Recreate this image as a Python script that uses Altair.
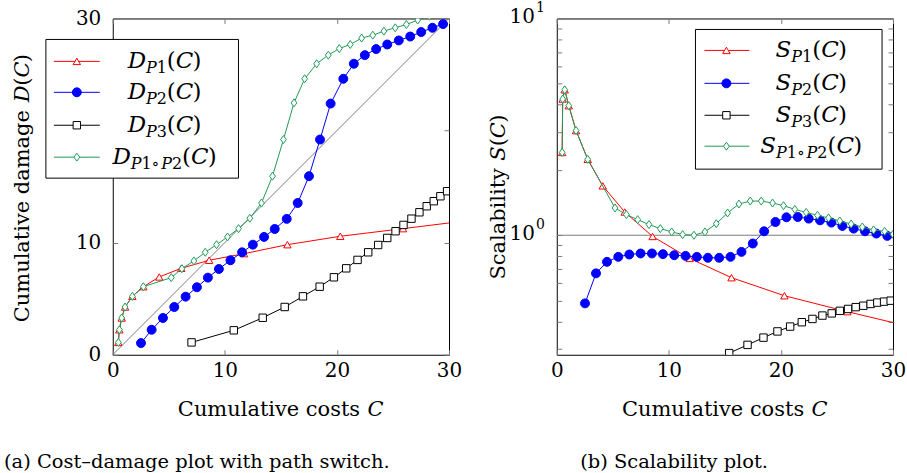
import altair as alt
import pandas as pd

# ---------------- data: cost-damage curves D(C) ----------------
DP1_C = [0.5, 0.59, 0.8, 1.1, 1.75, 2.73, 4.15, 6.11, 8.6, 11.72, 15.58, 20.3, 25.9, 31.4]
DP1_D = [1.1, 2.23, 3.28, 4.26, 5.21, 6.07, 6.94, 7.71, 8.43, 9.02, 9.82, 10.57, 11.25, 11.93]

DP2_C = [2.52, 3.47, 4.48, 5.49, 6.5, 7.51, 8.49, 9.47, 10.5, 11.54, 12.5, 13.5, 14.45, 15.52,
         16.5, 17.51, 18.49, 19.44, 20.57, 21.51, 22.49, 23.5, 24.49, 25.52, 26.54, 27.52, 28.52, 29.47]
DP2_D = [1.04, 2.23, 3.28, 4.26, 5.18, 6.02, 6.88, 7.65, 8.43, 9.14, 9.82, 10.51, 11.22, 12.12,
         13.54, 15.93, 19.2, 22.41, 24.62, 25.96, 26.73, 27.27, 27.68, 28.04, 28.39, 28.79, 29.17, 29.5]

DP3_C = [7.03, 10.8, 13.38, 15.34, 16.97, 18.46, 19.73, 20.83, 21.84, 22.79, 23.68, 24.49, 25.23,
         25.94, 26.65, 27.36, 28.01, 28.64, 29.23, 29.83]
DP3_D = [1.1, 2.18, 3.3, 4.26, 5.21, 6.07, 6.91, 7.71, 8.46, 9.14, 9.79, 10.42, 11.02, 11.58,
         12.14, 12.71, 13.25, 13.7, 14.14, 14.59]

DSW_C = [0.5, 0.59, 0.8, 1.1, 1.75, 2.73, 5.22, 6.17, 7.24, 8.25, 9.26, 10.24, 11.22, 12.23, 13.27,
         14.25, 15.23, 16.17, 17.12, 18.19, 19.23, 20.21, 21.19, 22.2, 23.2, 24.19, 25.2, 26.2, 27.21,
         28.25, 29.25, 30.1]
DSW_D = [1.1, 2.23, 3.28, 4.26, 5.21, 6.07, 6.88, 7.68, 8.37, 9.14, 9.82, 10.51, 11.25, 12.18, 13.54,
         15.93, 19.2, 22.47, 24.62, 25.96, 26.73, 27.32, 27.68, 28.25, 28.51, 28.87, 29.17, 29.46, 29.86,
         30.2, 30.5, 30.6]

# ---------------- data: scalability S(C) ----------------
SP1_C = [0.48, 0.53, 0.71, 1.07, 1.72, 2.76, 4.1, 6.06, 8.55, 11.85, 15.59, 20.31, 25.93, 31.4]
SP1_S = [2.41, 4.25, 4.69, 3.96, 3.04, 2.24, 1.69, 1.28, 0.987, 0.782, 0.637, 0.526, 0.444, 0.38]

SP2_C = [2.52, 3.5, 4.48, 5.49, 6.47, 7.48, 8.49, 9.47, 10.48, 11.49, 12.5, 13.48, 14.49, 15.5,
         16.48, 17.49, 18.5, 19.51, 20.49, 21.5, 22.48, 23.49, 24.5, 25.48, 26.49, 27.5, 28.51, 29.49]
SP2_S = [0.485, 0.667, 0.754, 0.795, 0.815, 0.824, 0.824, 0.818, 0.809, 0.803, 0.795, 0.787, 0.787,
         0.795, 0.838, 0.916, 1.043, 1.151, 1.21, 1.214, 1.193, 1.172, 1.144, 1.104, 1.073, 1.043,
         1.018, 0.993]

SP3_C = [7.03, 10.8, 13.38, 15.38, 17.02, 18.44, 19.69, 20.82, 21.86, 22.81, 23.7, 24.53, 25.25,
         25.99, 26.67, 27.35, 28.0, 28.6, 29.2, 29.79]
SP3_S = [0.156, 0.202, 0.247, 0.286, 0.312, 0.337, 0.36, 0.379, 0.397, 0.411, 0.426, 0.436, 0.448,
         0.457, 0.466, 0.473, 0.482, 0.489, 0.494, 0.499]

SSW_C = [0.48, 0.53, 0.71, 1.07, 1.72, 2.76, 5.2, 6.21, 7.22, 8.23, 9.24, 10.25, 11.23, 12.24, 13.22,
         14.23, 15.24, 16.25, 17.26, 18.24, 19.25, 20.23, 21.24, 22.25, 23.26, 24.24, 25.25, 26.26,
         27.26, 28.27, 29.25, 30.0]
SSW_S = [2.41, 4.25, 4.69, 3.96, 3.04, 2.24, 1.336, 1.245, 1.18, 1.12, 1.073, 1.036, 1.007, 1.0,
         1.036, 1.131, 1.267, 1.393, 1.438, 1.438, 1.408, 1.369, 1.316, 1.275, 1.236, 1.202, 1.164,
         1.127, 1.092, 1.058, 1.043, 1.01]

X_TICKS = [0, 10, 20, 30]
D_TICKS = [0, 10, 20, 30]
S_TICKS = [0.3, 0.4, 0.5, 0.6, 0.7, 0.8, 0.9, 1, 2, 3, 4, 5, 6, 7, 8, 9, 10]
S_LABELS = [1, 10]
S_EXPONENTS = ["0", "1"]

# ---------------- styling ----------------
FONT = "DejaVu Serif"
RED, BLUE, BLACK, GREEN, GRAY = "#ff0000", "#0000ff", "#000000", "#1f9b55", "#7a7a7a"
TICK_GRAY = "#7a7a7a"
DIAMOND = "M0,-1L0.72,0L0,1L-0.72,0Z"
W, H = 337, 337
TITLE_SIZE, CAPTION_SIZE, TICK_SIZE = 21, 19.5, 20
LEG_SIZE, SUB_SIZE = 23, 16

# (colour, shape, size, open marker) per series
STYLES = {
    "P1": (RED, "triangle-up", 55, True),
    "P2": (BLUE, "circle", 80, False),
    "P3": (BLACK, "square", 55, True),
    "SW": (GREEN, DIAMOND, 64, True),
}

# advance widths (em) of DejaVu Serif glyphs used in the composed labels
ROMAN_W = {" ": .318, "(": .391, ")": .391, "C": .732, "S": .686, "D": .792, "P": .674,
           "a": .596, "b": .641, "c": .576, "d": .641, "e": .593, "g": .641, "h": .652, "i": .32,
           "l": .32, "m": .971, "o": .602, "p": .641, "s": .511, "t": .401, "u": .652, "v": .579,
           "w": .868, "y": .579, ".": .318, "–": .5, "∘": .6}
ITALIC_W = {"C": .732, "D": .792, "S": .686, "P": .674}


def text_width(s, style, size):
    table = ITALIC_W if style == "italic" else ROMAN_W
    return sum(table.get(ch, 0.636) for ch in s) * size


def rich(pieces, cx, cy, rotate=False):
    """Lay out a run of text pieces (text, style, size, shift) centred on (cx, cy)."""
    total = sum(text_width(t, st, sz) for t, st, sz, _ in pieces)
    rows, off = [], 0.0
    for t, st, sz, d in pieces:
        if rotate:
            rows.append(dict(px=cx + d, py=cy + total / 2 - off, txt=t, style=st, size=sz, angle=270))
        else:
            rows.append(dict(px=cx - total / 2 + off, py=cy + d, txt=t, style=st, size=sz, angle=0))
        off += text_width(t, st, sz)
    return rows


def label_pieces(letter, sub):
    parts = [(letter, "italic", LEG_SIZE, 0)]
    for ch in sub:
        parts.append((ch, "italic" if ch == "P" else "normal", SUB_SIZE, 5))
    parts += [("(", "normal", LEG_SIZE, 0), ("C", "italic", LEG_SIZE, 0), (")", "normal", LEG_SIZE, 0)]
    return parts


def fn_pieces(prefix, letter):
    return [(prefix, "normal", TITLE_SIZE, 0), (letter, "italic", TITLE_SIZE, 0),
            ("(", "normal", TITLE_SIZE, 0), ("C", "italic", TITLE_SIZE, 0), (")", "normal", TITLE_SIZE, 0)]


def text_layers(rows):
    layers = []
    for style in ("normal", "italic"):
        df = pd.DataFrame([r for r in rows if r["style"] == style])
        if df.empty:
            continue
        layers.append(
            alt.Chart(df).mark_text(font=FONT, fontStyle=style, align="left",
                                    baseline="alphabetic", color="black").encode(
                x=alt.X("px:Q", scale=None, axis=None),
                y=alt.Y("py:Q", scale=None, axis=None),
                text="txt:N",
                size=alt.Size("size:Q", scale=None, legend=None),
                angle=alt.Angle("angle:Q", scale=None),
            )
        )
    return layers


def series_layers(C, V, key, xs, ys):
    color, shape, size, open_marker = STYLES[key]
    base = alt.Chart(pd.DataFrame({"c": C, "v": V})).encode(
        x=alt.X("c:Q", scale=xs, axis=None), y=alt.Y("v:Q", scale=ys, axis=None))
    line = base.mark_line(color=color, strokeWidth=1, clip=True)
    pts = base.mark_point(shape=shape, size=size, filled=True,
                          fill="white" if open_marker else color, stroke=color,
                          strokeWidth=1, opacity=1, clip=True)
    return [line, pts]


def legend_layers(box, line_x, mark_x, rows_y):
    x0, x1, y0, y1 = box
    frame = alt.Chart(pd.DataFrame({"k": [0]})).mark_rect(
        fill="white", stroke="black", strokeWidth=1).encode(
        x=alt.value(x0), x2=alt.value(x1), y=alt.value(y0), y2=alt.value(y1))
    keys = ["P1", "P2", "P3", "SW"]
    df = pd.DataFrame({
        "ly": rows_y,
        "col": [STYLES[k][0] for k in keys],
        "shp": [STYLES[k][1] for k in keys],
        "sz": [STYLES[k][2] for k in keys],
        "fil": ["white" if STYLES[k][3] else STYLES[k][0] for k in keys],
    })
    lines = alt.Chart(df).mark_rule(strokeWidth=1).encode(
        x=alt.value(line_x[0]), x2=alt.value(line_x[1]),
        y=alt.Y("ly:Q", scale=None, axis=None),
        color=alt.Color("col:N", scale=None, legend=None))
    marks = alt.Chart(df).mark_point(filled=True, strokeWidth=1, opacity=1).encode(
        x=alt.value(mark_x),
        y=alt.Y("ly:Q", scale=None, axis=None),
        shape=alt.Shape("shp:N", scale=None, legend=None),
        size=alt.Size("sz:Q", scale=None, legend=None),
        fill=alt.Fill("fil:N", scale=None, legend=None),
        stroke=alt.Stroke("col:N", scale=None, legend=None))
    return [frame, lines, marks]


def page_edge(x, top, bottom):
    """Invisible vertical rule that fixes the outer extent of the page."""
    return alt.Chart(pd.DataFrame({"k": [0]})).mark_rule(stroke="white", strokeOpacity=0).encode(
        x=alt.value(x), y=alt.value(top), y2=alt.value(bottom))


def axis(orient, values, labels=True, fmt="d"):
    kw = dict(orient=orient, values=values, offset=-5, tickSize=5, tickColor=TICK_GRAY,
              tickWidth=1, domain=False, grid=False, title=None, labels=labels,
              labelFlush=False, labelOverlap=False)
    if labels:
        kw.update(format=fmt, labelFont=FONT, labelFontSize=TICK_SIZE, labelColor="black",
                  labelPadding=12 if orient in ("left", "right") else 6)
    return alt.Axis(**kw)


def axis_carriers(df, xs, ys, y_values, y_labels=True):
    bl = alt.Chart(df).mark_point(opacity=0).encode(
        x=alt.X("c:Q", scale=xs, axis=axis("bottom", X_TICKS)),
        y=alt.Y("v:Q", scale=ys, axis=axis("left", y_values, labels=y_labels)))
    tr = alt.Chart(df).mark_point(opacity=0).encode(
        x=alt.X("c:Q", scale=xs, axis=axis("top", X_TICKS, labels=False)),
        y=alt.Y("v:Q", scale=ys, axis=axis("right", y_values, labels=False)))
    return [bl, tr]


# ---------------- left panel: cost-damage plot ----------------
xs_l = alt.Scale(domain=[0, 30], nice=False, zero=False)
ys_l = alt.Scale(domain=[0, 30], nice=False, zero=False)
diag = pd.DataFrame({"c": [0, 30], "v": [0, 30]})

left_layers = axis_carriers(diag, xs_l, ys_l, D_TICKS)
left_layers.append(alt.Chart(diag).mark_line(color=GRAY, strokeWidth=1).encode(
    x=alt.X("c:Q", scale=xs_l, axis=None), y=alt.Y("v:Q", scale=ys_l, axis=None)))
for C, V, k in [(DP1_C, DP1_D, "P1"), (DP2_C, DP2_D, "P2"), (DP3_C, DP3_D, "P3"), (DSW_C, DSW_D, "SW")]:
    left_layers += series_layers(C, V, k, xs_l, ys_l)

left_rows_y = [43, 74, 107, 139]
left_layers += legend_layers((-67, 126, 21, 160), (-59, -13), -36, left_rows_y)

left_text = []
for ry, sub in zip(left_rows_y, ["P1", "P2", "P3", "P1∘P2"]):
    left_text += rich(label_pieces("D", sub), 52, ry + 7)
left_text += rich(fn_pieces("Cumulative damage ", "D"), -84, 170, rotate=True)
left_text += rich([("Cumulative costs ", "normal", TITLE_SIZE, 0), ("C", "italic", TITLE_SIZE, 0)], 168, 398)
left_text += rich([("(a) Cost–damage plot with path switch.", "normal", CAPTION_SIZE, 0)], 85, 451)
left_layers += text_layers(left_text)
left_layers.append(page_edge(-112, -16, 457))

left = alt.layer(*left_layers).resolve_axis(x="independent", y="independent").properties(width=W, height=H)

# ---------------- right panel: scalability plot ----------------
xs_r = alt.Scale(domain=[0, 30], nice=False, zero=False)
ys_r = alt.Scale(type="log", domain=[0.281, 10], nice=False, zero=False)
unit = pd.DataFrame({"c": [0, 30], "v": [1, 1]})

right_layers = axis_carriers(unit, xs_r, ys_r, S_TICKS, y_labels=False)
right_layers.append(alt.Chart(unit).mark_line(color=GRAY, strokeWidth=1).encode(
    x=alt.X("c:Q", scale=xs_r, axis=None), y=alt.Y("v:Q", scale=ys_r, axis=None)))
for C, V, k in [(SP1_C, SP1_S, "P1"), (SP2_C, SP2_S, "P2"), (SP3_C, SP3_S, "P3"), (SSW_C, SSW_S, "SW")]:
    right_layers += series_layers(C, V, k, xs_r, ys_r)

# power-of-ten tick labels on the log axis
pow_df = pd.DataFrame({"v": S_LABELS, "exp": S_EXPONENTS, "base": ["10", "10"]})
right_layers.append(alt.Chart(pow_df).mark_text(font=FONT, fontSize=TICK_SIZE, align="right",
                                                baseline="middle", dy=-1, color="black").encode(
    x=alt.value(-22), y=alt.Y("v:Q", scale=ys_r, axis=None), text="base:N"))
right_layers.append(alt.Chart(pow_df).mark_text(font=FONT, fontSize=14, align="right",
                                                baseline="middle", dy=-10, color="black").encode(
    x=alt.value(-12), y=alt.Y("v:Q", scale=ys_r, axis=None), text="exp:N"))

right_rows_y = [32, 65, 97, 128]
right_layers += legend_layers((139, 326, 11, 151), (148, 193), 170, right_rows_y)

right_text = []
for ry, sub in zip(right_rows_y, ["P1", "P2", "P3", "P1∘P2"]):
    right_text += rich(label_pieces("S", sub), 255, ry + 7)
right_text += rich(fn_pieces("Scalability ", "S"), -52, 179, rotate=True)
right_text += rich([("Cumulative costs ", "normal", TITLE_SIZE, 0), ("C", "italic", TITLE_SIZE, 0)], 168, 398)
right_text += rich([("(b) Scalability plot.", "normal", CAPTION_SIZE, 0)], 118, 451)
right_layers += text_layers(right_text)
right_layers.append(page_edge(350, -16, 457))

right = alt.layer(*right_layers).resolve_axis(x="independent", y="independent").properties(width=W, height=H)

chart = alt.hconcat(left, right, spacing=108, bounds="flush").properties(
    padding=0,
    background="white",
).configure_view(stroke="black", strokeWidth=1)

chart.save("out.html", embed_options={"renderer": "svg", "actions": False})
